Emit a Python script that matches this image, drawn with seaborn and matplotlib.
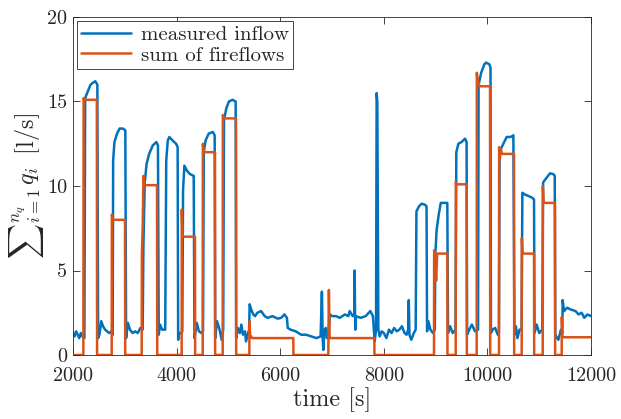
import matplotlib
matplotlib.use("Agg")
import matplotlib.pyplot as plt
import seaborn as sns
import pandas as pd

# ---- data ----
t_inflow = [2000, 2030, 2060, 2090, 2120, 2150, 2180, 2220, 2235, 2260, 2300, 2340, 2380, 2430, 2470,
            2485, 2510, 2545, 2580, 2620, 2660, 2700, 2740, 2766, 2775, 2800, 2850, 2900, 2960, 3010,
            3025, 3060, 3100, 3150, 3200, 3250, 3300, 3345, 3360, 3385, 3420, 3470, 3540, 3610, 3640,
            3655, 3680, 3720, 3780, 3800, 3830, 3860, 3920, 3990, 4020, 4030, 4050, 4090, 4110, 4125,
            4150, 4200, 4260, 4330, 4345, 4390, 4430, 4480, 4510, 4525, 4560, 4620, 4700, 4735, 4745,
            4780, 4830, 4870, 4900, 4915, 4960, 5010, 5080, 5140, 5150, 5180, 5220, 5250, 5280, 5320,
            5340, 5380, 5400, 5410, 5440, 5480, 5515, 5560, 5630, 5700, 5760, 5850, 5953, 6020, 6082,
            6130, 6146, 6200, 6300, 6404, 6500, 6600, 6700, 6780, 6805, 6820, 6833, 6850, 6880, 6900,
            6930, 6961, 7000, 7080, 7150, 7250, 7315, 7341, 7400, 7430, 7438, 7445, 7450, 7460, 7550,
            7650, 7740, 7790, 7824, 7850, 7862, 7875, 7895, 7920, 7960, 8000, 8050, 8100, 8150, 8200,
            8250, 8300, 8350, 8400, 8440, 8470, 8482, 8495, 8530, 8580, 8615, 8630, 8680, 8730, 8790,
            8825, 8835, 8860, 8900, 8950, 8985, 8995, 9020, 9060, 9100, 9160, 9226, 9240, 9280, 9330,
            9385, 9400, 9440, 9500, 9568, 9598, 9608, 9650, 9700, 9760, 9820, 9830, 9880, 9940, 9974,
            10038, 10060, 10068, 10100, 10150, 10200, 10222, 10235, 10276, 10372, 10450, 10501, 10522,
            10550, 10580, 10620, 10660, 10675, 10720, 10800, 10868, 10900, 10910, 10950, 11000, 11060,
            11075, 11120, 11209, 11274, 11300, 11310, 11370, 11420, 11445, 11453, 11480, 11540, 11600,
            11700, 11760, 11820, 11870, 11930, 12000]
q_inflow = [1.3, 1.1, 1.4, 1.2, 1.0, 1.3, 1.1, 1.0, 15.2, 15.4, 15.7, 16.0, 16.1, 16.2, 16.0,
            1.0, 1.2, 2.0, 1.7, 1.5, 1.4, 1.3, 1.4, 1.2, 11.5, 12.6, 13.1, 13.4, 13.4, 13.3,
            1.0, 1.9, 1.5, 1.3, 1.4, 1.3, 1.6, 1.5, 6.6, 10.2, 11.3, 11.9, 12.4, 12.6, 12.4,
            1.2, 1.8, 1.5, 1.5, 11.5, 12.7, 12.9, 12.7, 12.5, 12.3, 0.9, 1.3, 1.3, 1.4, 9.8,
            11.2, 10.9, 10.7, 10.6, 1.0, 1.9, 1.4, 1.3, 1.4, 12.0, 12.7, 13.1, 13.2, 13.0, 1.0,
            2.0, 1.5, 0.9, 1.5, 13.9, 14.6, 15.0, 15.1, 15.0, 1.0, 1.6, 1.3, 1.8, 1.2, 1.4,
            0.8, 1.3, 1.5, 3.0, 2.7, 2.4, 2.3, 2.5, 2.6, 2.3, 2.2, 2.3, 2.15, 2.2, 2.4,
            2.2, 1.6, 1.5, 1.4, 1.2, 1.2, 1.1, 1.0, 1.1, 3.75, 1.0, 0.3, 1.4, 1.6, 1.0,
            1.3, 2.4, 2.3, 2.3, 2.2, 2.4, 2.3, 2.6, 2.3, 2.4, 5.0, 2.3, 1.5, 2.3, 2.2,
            2.3, 2.6, 2.3, 0.8, 1.5, 15.5, 15.0, 1.5, 1.1, 1.4, 1.3, 1.0, 1.5, 1.3, 1.6,
            1.4, 1.5, 1.7, 1.3, 1.2, 1.5, 3.25, 1.2, 0.9, 1.3, 1.5, 8.5, 8.8, 8.95, 8.9,
            8.8, 1.4, 2.0, 1.5, 1.3, 1.5, 6.0, 7.4, 8.3, 9.0, 9.0, 9.0, 1.3, 1.7, 1.3,
            1.5, 12.0, 12.5, 12.6, 12.8, 12.6, 1.2, 1.5, 1.8, 1.4, 1.5, 16.0, 16.7, 17.2, 17.3,
            17.2, 17.0, 1.3, 1.5, 1.6, 1.2, 1.3, 12.0, 12.3, 12.9, 12.9, 13.0, 1.2,
            1.7, 1.0, 1.5, 1.5, 9.6, 9.5, 9.4, 9.3, 9.2, 1.3, 1.8, 1.3, 1.5,
            10.2, 10.4, 10.75, 10.7, 10.6, 1.2, 0.9, 1.5, 1.3, 3.25, 2.6, 2.8, 2.7,
            2.6, 2.4, 2.5, 2.2, 2.4, 2.3]

t_fire = [2000, 2200, 2205, 2215, 2460, 2465, 2747, 2750, 2770, 3004, 3008, 3326, 3330, 3345, 3360,
          3380, 3622, 3626, 4098, 4100, 4115, 4355, 4358, 4504, 4507, 4525, 4741, 4744, 4890, 4893,
          4910, 5147, 5150, 5404, 5407, 5420, 5440, 5460, 6253, 6256, 6929, 6940, 6955, 7817, 7820,
          8969, 8972, 8990, 9010, 9030, 9226, 9229, 9388, 9391, 9405, 9600, 9603, 9793, 9796, 9815,
          9850, 10051, 10054, 10224, 10227, 10240, 10260, 10280, 10514, 10517, 10662, 10665, 10680,
          10900, 10903, 11068, 11071, 11085, 11305, 11308, 11434, 11437, 11450, 12000]
q_fire = [0, 0, 15.2, 15.1, 15.1, 0, 0, 8.3, 8.0, 8.0, 0, 0, 6.0, 7.5, 10.6,
          10.05, 10.05, 0, 0, 8.6, 7.0, 7.0, 0, 0, 12.5, 12.0, 12.0, 0, 0, 14.2,
          14.0, 14.0, 0, 0, 2.0, 1.05, 1.1, 1.0, 1.0, 0, 0, 3.85, 1.0, 1.0, 0,
          0, 6.2, 6.0, 4.4, 6.0, 6.0, 0, 0, 10.25, 10.1, 10.1, 0, 0, 16.7, 16.2,
          15.9, 15.9, 0, 0, 12.3, 11.6, 12.2, 11.9, 11.9, 0, 0, 6.9, 6.0,
          6.0, 0, 0, 10.0, 9.0, 9.0, 0, 0, 2.25, 1.05, 1.05]

x_ticks = [2000, 4000, 6000, 8000, 10000, 12000]
y_ticks = [0, 5, 10, 15, 20]

df_in = pd.DataFrame({"t": t_inflow, "q": q_inflow})
df_ff = pd.DataFrame({"t": t_fire, "q": q_fire})

sns.set_style("ticks")
plt.rcParams["font.family"] = ["cmr10", "DejaVu Serif"]
plt.rcParams["mathtext.fontset"] = "cm"
plt.rcParams["axes.formatter.use_mathtext"] = True

fig = plt.figure(figsize=(6.21, 4.19), dpi=100)
ax = fig.add_axes([73/621, 1-355/419, (591-73)/621, (355-17)/419])

blue = "#0072BD"
orange = "#D95319"
sns.lineplot(data=df_in, x="t", y="q", ax=ax, estimator=None, sort=False,
             color=blue, lw=1.8, label="measured inflow", zorder=2)
sns.lineplot(data=df_ff, x="t", y="q", ax=ax, estimator=None, sort=False,
             color=orange, lw=1.8, label="sum of fireflows", zorder=3)

ax.set_xlim(2000, 12000)
ax.set_ylim(0, 20)
ax.set_xticks(x_ticks)
ax.set_yticks(y_ticks)
ax.set_xticklabels([str(v) for v in x_ticks])
ax.set_yticklabels([str(v) for v in y_ticks])
ax.tick_params(direction="in", length=5, width=0.6, top=True, right=True,
               labelsize=14.5, colors="#262626", pad=4)
ax.tick_params(axis="x", pad=9)
for s in ax.spines.values():
    s.set_visible(True)
    s.set_linewidth(0.6)
    s.set_color("#262626")

ax.set_xlabel("time [s]", fontsize=17.5, color="#262626", labelpad=1)
ax.set_ylabel(r"$\sum{}_{i=1}^{n_q}\, q_i\;\; [\mathrm{l/s}]$", fontsize=17.5,
              color="#262626", labelpad=1)

leg = ax.legend(loc="upper left", fontsize=15, frameon=True, fancybox=False,
                framealpha=1, edgecolor="#262626", borderpad=0.2,
                handlelength=2.4, handletextpad=0.45, labelspacing=0.1,
                borderaxespad=0.2)
leg.get_frame().set_linewidth(0.6)

fig.savefig("out.png", dpi=100)
